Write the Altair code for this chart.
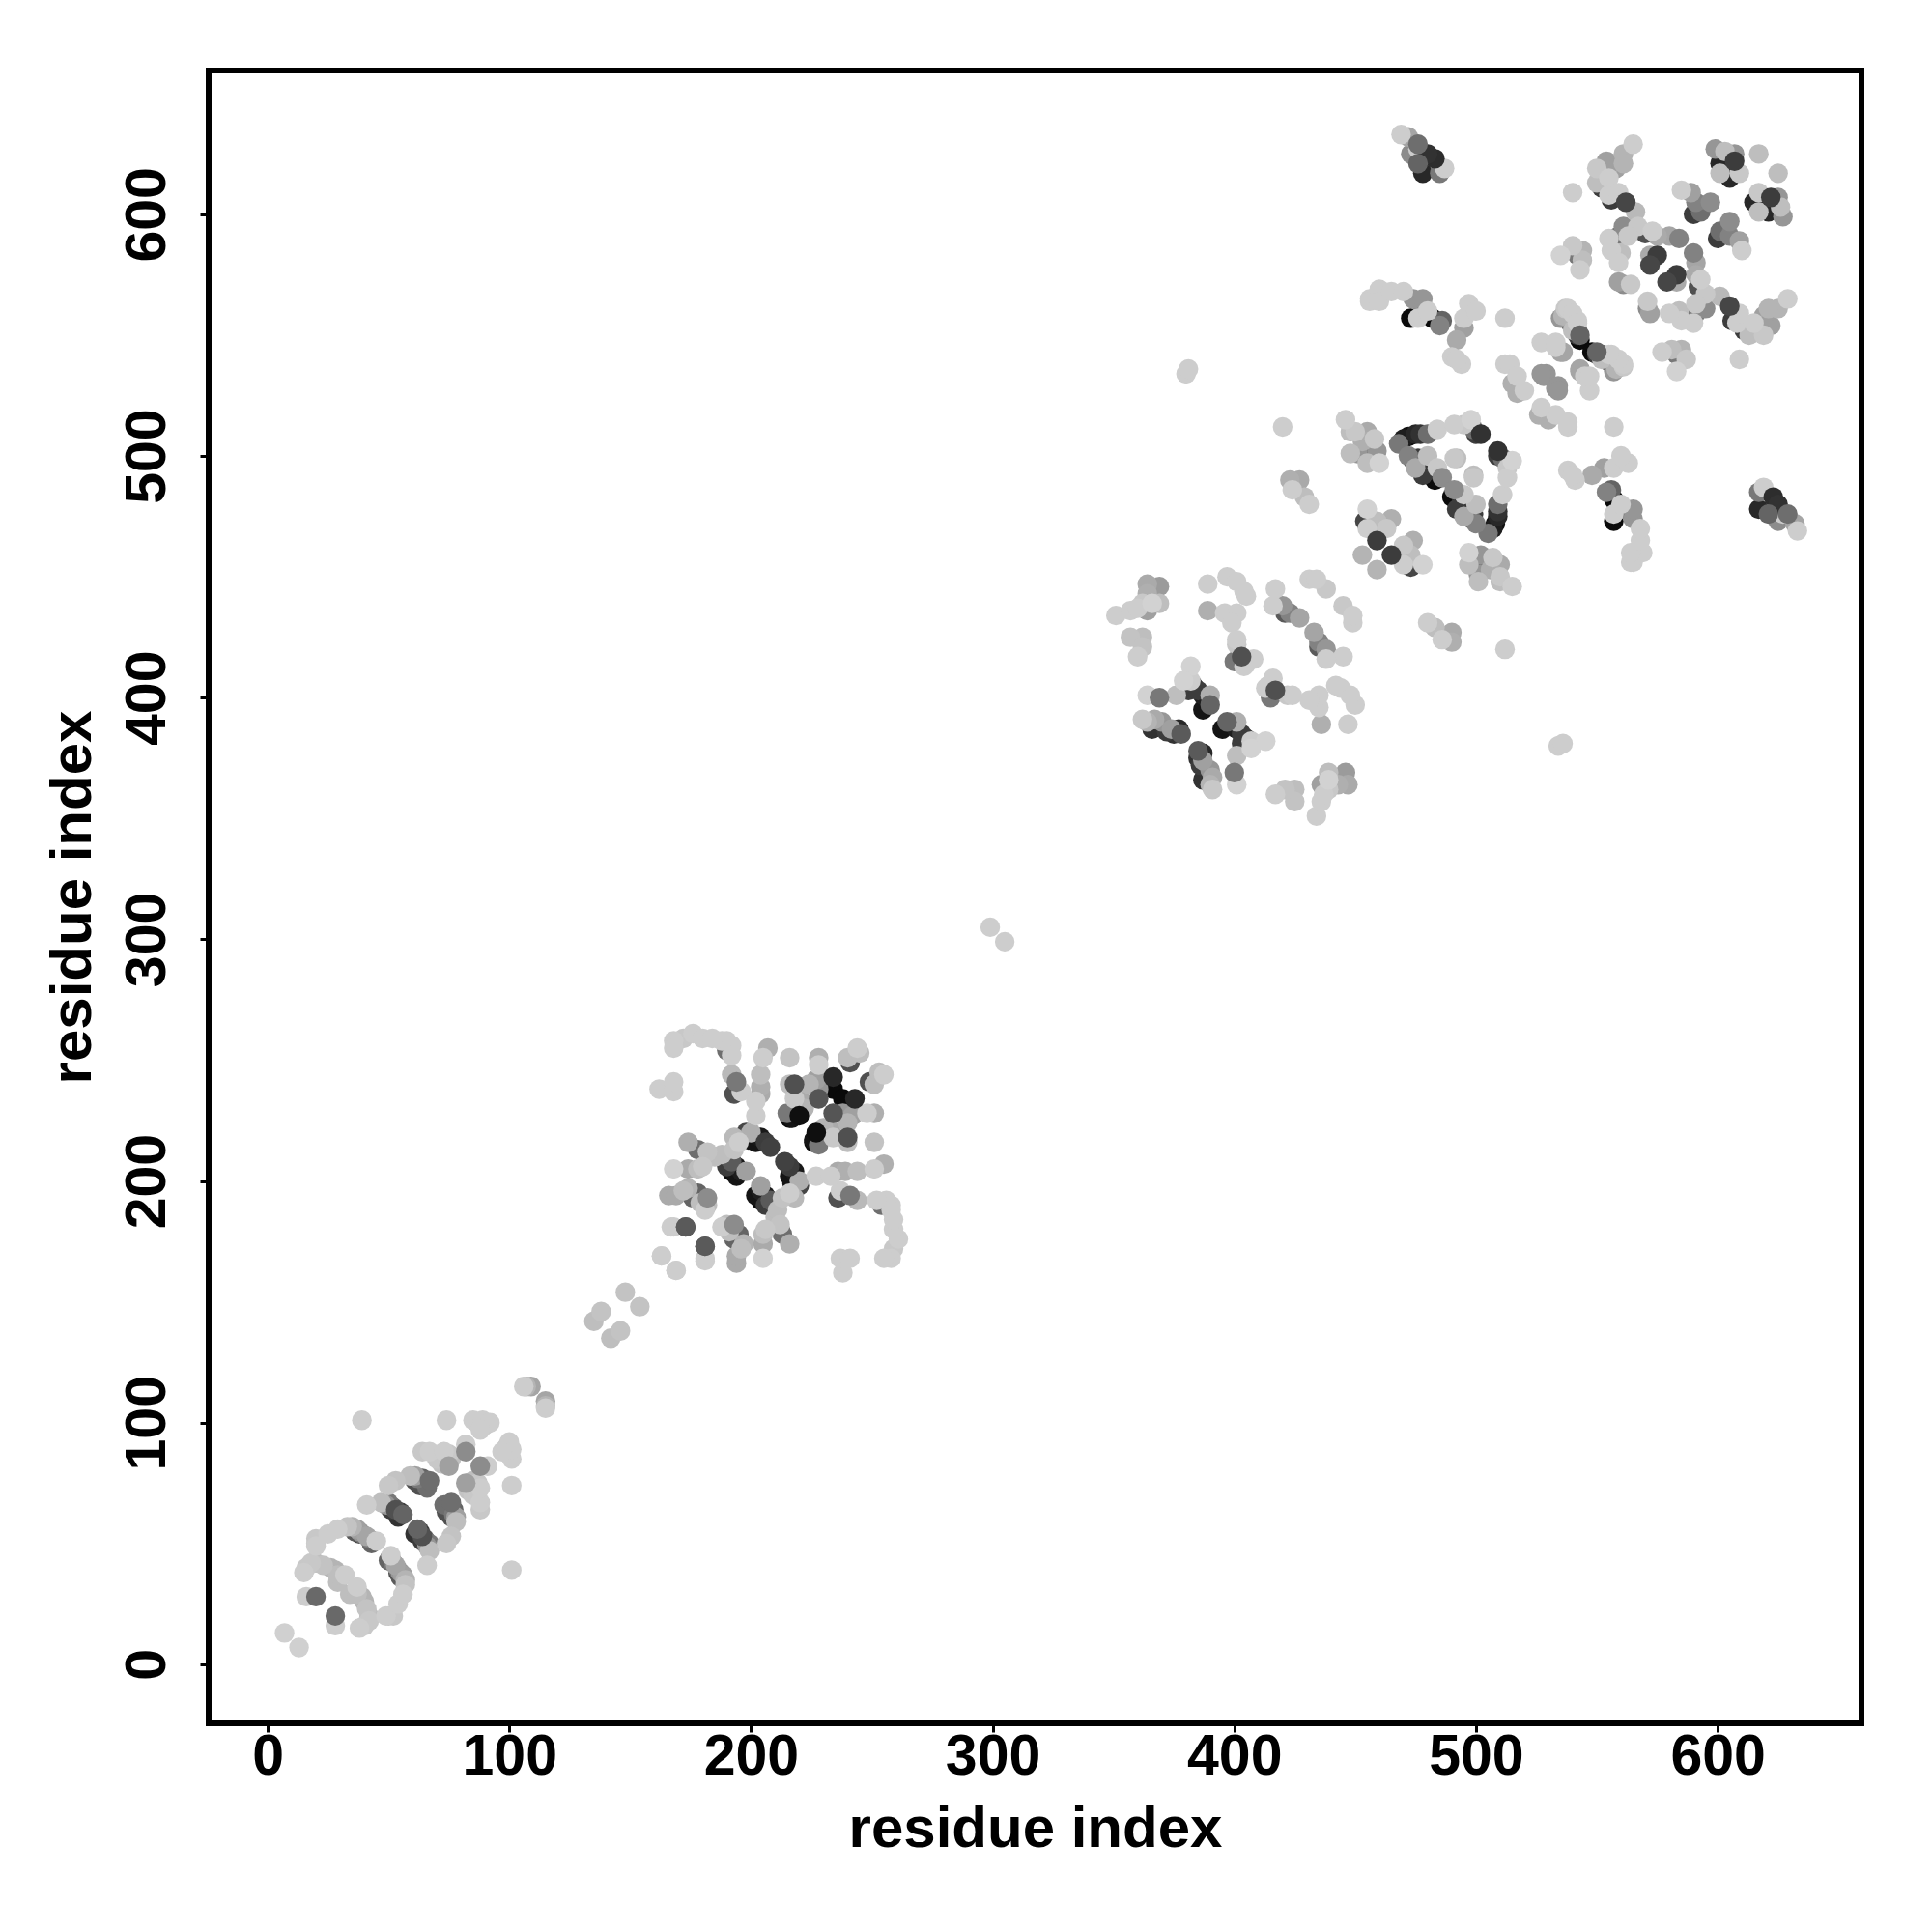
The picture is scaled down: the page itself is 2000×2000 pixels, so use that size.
import altair as alt
import pandas as pd

domain_a = [
 (7,13,208),(16,28,205),(20,28,105),(15,38,205),(16,40,200),(18,42,200),(20,42,190),(23,41,195),(26,40,180),(28,39,180),
 (29,34,190),(29,37,190),(32,37,205),(20,49,205),(20,50,195),(20,52,200),(25,54,205),(29,56,205),(33,57,195),(35,57,180),
 (36,55,90),(37,56,160),(38,54,70),(38,55,150),(39,54,110),(41,53,165),(42,52,120),(43,50,100),(45,51,205),(41,66,205),
 (47,67,190),(49,66,150),(50,67,120),(51,64,60),(52,65,95),(53,64,80),(54,61,50),(55,63,60),(56,62,100),(50,74,200),(53,76,195),
 (59,78,190),(61,78,160),(61,76,80),(62,77,120),(63,74,80),(64,77,100),(65,76,95),(66,73,110),(67,76,110),(64,88,200),(67,88,205),(70,85,200),
 (72,83,195),(73,88,205),(75,87,200),(75,82,160),(76,85,190),(82,88,140),(82,91,205),(74,101,205),(39,101,205),
 (85,101,205),(89,101,205),(92,100,205),(88,97,205),(90,99,195),(106,115,205),(109,115,165),(107,115,180),
]
linker = [(135,142,190),(138,146,195),(148,154,195),(163,169,205),(299,305,205)]
domain_b = [
 (168,258,205),(168,255,205),(172,259,200),(176,261,205),(180,259,205),(184,259,205),(188,258,205),(190,258,205),
 (190,254,110),(192,256,205),(192,252,205),(162,238,205),(168,237,205),(168,241,205),(192,244,185),(193,236,80),(194,241,120),(196,237,205),
 (204,244,190),(204,239,175),(204,236,170),(205,251,205),(207,255,175),(202,227,205),(202,233,205),(216,251,195),(228,251,175),(228,248,205),
 (240,251,190),(241,249,80),(245,253,190),(244,255,205),(216,240,190),(218,240,80),(218,234,200),(221,233,170),(228,234,85),(227,242,160),
 (228,238,150),(224,240,180),(234,238,10),(234,243,40),(217,226,20),(215,228,120),(216,226,10),(220,227,15),(222,230,180),
 (193,218,185),(195,216,205),(198,220,70),(199,217,20),(200,220,175),(201,218,10),(202,216,20),(204,218,25),(206,216,60),(208,214,65),
 (174,216,175),(178,213,110),(180,212,60),(182,212,195),(185,210,190),(188,211,190),(193,213,195),(190,206,60),(192,208,90),(192,204,10),(194,206,30),(194,202,20),(196,204,30),(198,204,160),
 (174,205,170),(168,205,210),(178,205,190),(180,206,200),(166,194,170),(169,194,170),(172,196,190),(174,197,180),(176,193,100),(178,195,100),(179,191,190),(181,188,205),(182,190,190),(182,193,140),
 (167,181,205),(173,181,85),(181,173,90),(181,168,205),(163,169,205),
]
domain_c = [
 (351,434,205),(357,436,205),(360,437,205),(362,439,200),(364,436,160),(364,447,170),(369,446,155),(364,443,175),(366,439,210),(369,439,190),
 (357,425,195),(362,425,190),(362,421,195),(360,417,205),(389,447,205),(389,436,175),(397,450,205),(401,448,205),(404,444,205),(405,442,205),
 (396,435,205),(401,435,205),(399,431,205),(401,424,205),(401,422,200),(400,415,120),(403,417,80),(405,414,205),(408,416,205),(404,413,205),
 (417,445,205),(416,438,205),(420,438,150),(421,435,90),(423,435,130),(427,433,165),(431,449,205),(434,449,205),(438,445,200),
 (382,413,210),(364,401,210),(369,400,120),(376,401,190),(379,407,210),(382,407,205),(381,403,60),(383,405,40),(385,403,60),(387,401,30),(390,401,175),(387,395,20),(390,397,100),
 (362,391,200),(364,390,180),(367,391,170),(370,390,150),(366,387,50),(368,388,40),(372,386,60),(374,387,160),(375,385,50),(377,387,40),(378,385,90),
]
domain_d = [
 (446,515,205),(448,510,190),(450,510,200),(455,510,170),(458,507,200),(453,506,175),(459,502,150),(460,497,210),(448,501,190),(451,501,150),(453,501,90),(455,497,190),
 (455,478,210),(454,473,70),(455,470,205),(459,473,190),(465,474,175),(463,470,200),(459,465,60),(453,459,180),(431,480,205),(429,483,190),(427,490,170),(423,490,175),(424,486,205),(420,512,205),
 (468,505,120),(470,507,30),(472,508,15),(475,509,40),(477,509,50),(480,509,110),(484,511,205),(491,513,205),(495,513,200),(498,515,210),(499,511,110),(500,509,60),(502,509,50),
 (472,500,130),(474,498,90),(476,499,60),(480,500,190),(475,495,170),(478,492,60),(481,494,50),(484,495,200),(483,490,10),(486,491,140),(491,499,200),(499,492,190),
 (380,534,205),(381,536,205),
]
domain_e = [
 (512,557,205),(494,538,205),(490,541,205),(492,540,205),(512,538,205),(514,538,205),(517,533,205),(515,530,175),(517,526,175),(520,527,205),
 (527,547,205),(533,545,205),(535,543,165),(527,534,150),(538,561,205),(536,558,180),(539,555,90),(540,552,190),(542,556,205),(543,550,100),(543,548,10),
 (456,565,205),(456,564,205),(460,569,205),(460,564,205),(465,568,205),(470,568,205),(473,557,10),(474,565,150),(476,557,205),(478,565,150),(478,561,130),(480,560,205),(482,557,10),(485,554,130),(486,556,100),(492,548,170),(495,553,160),(495,557,205),(497,563,205),(500,560,205),
 (487,619,205),(485,617,120),(483,623,45),(480,625,50),(478,617,40),(476,629,110),(476,627,205),(472,632,165),(469,633,205),(473,625,140),(476,621,100),
 (537,561,200),(540,559,205),(542,555,205),(542,552,90),(542,550,60),(535,557,150),(533,547,205),(536,543,165),(529,534,150),(528,533,150),
 (535,583,210),(540,587,200),(542,583,120),(544,585,180),(544,581,190),(543,577,205),
]
domain_f = [
 (540,609,205),(565,629,205),(561,625,180),(561,621,180),(554,622,160),(558,619,160),(555,615,205),(550,619,200),(550,613,190),(552,611,60),
 (555,608,205),(559,609,205),(556,606,60),(562,605,70),(566,601,185),(567,595,200),(561,595,140),(570,592,80),(573,593,205),(575,591,170),(580,591,165),(584,590,130),
 (555,590,205),(559,591,120),(563,591,200),(556,585,205),(560,584,190),(559,580,205),(572,583,170),(575,583,60),(572,579,70),
 (559,572,160),(561,571,140),(564,571,200),(585,610,205),(589,609,160),(591,605,130),(593,601,110),(590,600,60),(597,605,140),
 (599,627,150),(603,626,190),(607,625,150),(607,622,60),(601,621,40),(609,617,200),(605,615,40),(601,617,190),(617,625,190),
]
blocks = [domain_a, linker, domain_b, domain_c, domain_d, domain_e, domain_f]

# contacts that sit fully on top of their neighbours in the picture
on_top = {
 (20,28),(55,63),(67,76),(75,82),(82,88),(234,243),(218,240),(220,227),(173,181),(181,173),(206,216),(208,214),(228,234),(194,241),(182,193),(198,204),
 (369,400),(390,397),(378,385),(403,417),(459,465),(502,509),(486,491),(527,534),(543,550),(575,583),(572,579),(584,590),(607,622),(562,605),(597,605),
 (483,623),(480,625),(476,629),(476,621),(56,62),(53,64),
}

axis_ticks = [0, 100, 200, 300, 400, 500, 600]

rows = []
for block in blocks:
    for i, j, grey in block:
        rows.append({"x": i, "y": j, "grey": grey, "front": (i, j) in on_top})
    for i, j, grey in block:
        rows.append({"x": j, "y": i, "grey": grey, "front": (i, j) in on_top})
data = pd.DataFrame(rows).sort_values(["front", "grey"], kind="stable").drop(columns="front")

FONT = "Liberation Sans"

x_axis = alt.Axis(values=axis_ticks, title="residue index", grid=False, domain=False,
                  tickColor="black", tickWidth=3, tickSize=9, labelFontSize=59, labelFont=FONT,
                  labelFontWeight="bold", labelColor="black", labelPadding=-4, labelFlush=False,
                  titleFont=FONT, titleFontSize=60, titleFontWeight="bold", titleColor="black", titlePadding=16)
y_axis = alt.Axis(values=axis_ticks, title="residue index", grid=False, domain=False,
                  tickColor="black", tickWidth=3, tickSize=9, labelFontSize=59, labelFont=FONT,
                  labelFontWeight="bold", labelColor="black", labelAngle=270, labelAlign="center",
                  labelBaseline="bottom", labelPadding=25, labelFlush=False,
                  titleFont=FONT, titleFontSize=60, titleFontWeight="bold", titleColor="black", titlePadding=17)

chart = (
    alt.Chart(data)
    .mark_circle(size=415, opacity=1, strokeWidth=0)
    .encode(
        x=alt.X("x:Q", scale=alt.Scale(domain=[-24.4, 659.5], nice=False, zero=False), axis=x_axis),
        y=alt.Y("y:Q", scale=alt.Scale(domain=[-24.4, 659.5], nice=False, zero=False), axis=y_axis),
        color=alt.Color("grey:Q", scale=alt.Scale(domain=[0, 255], range=["#000000", "#ffffff"], interpolate="rgb"), legend=None),
    )
    .properties(width=1711, height=1711, autosize=alt.AutoSizeParams(type="none"),
                padding={"left": 208, "top": 65, "right": 60, "bottom": 200}, background="white")
    .configure_view(stroke="black", strokeWidth=6)
)

chart.save("out.html", embed_options={"renderer": "svg", "actions": False})
